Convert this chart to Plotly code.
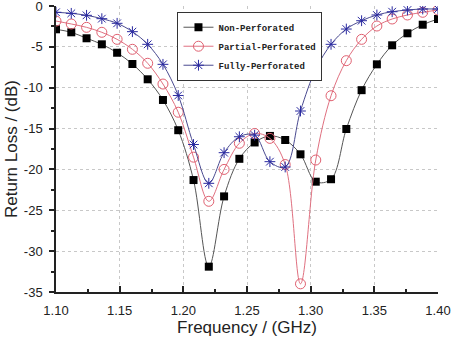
import plotly.graph_objects as go

# Frequency sample points (GHz)
freq = [1.100, 1.112, 1.124, 1.136, 1.148, 1.160, 1.172, 1.184, 1.196, 1.208,
        1.220, 1.232, 1.244, 1.256, 1.268, 1.280, 1.292, 1.304, 1.316, 1.328,
        1.340, 1.352, 1.364, 1.376, 1.388, 1.400]

non_perf = [-2.85, -3.22, -3.95, -4.69, -5.72, -7.10, -8.97, -11.5, -15.2, -21.3,
            -31.9, -23.3, -18.7, -16.7, -15.9, -16.4, -18.15, -21.5, -21.2, -15.05,
            -10.3, -7.14, -4.81, -3.34, -2.29, -1.59]

partial_perf = [-1.84, -2.20, -2.61, -3.22, -4.08, -5.30, -7.01, -9.55, -13.0, -18.5,
                -23.9, -20.0, -16.8, -15.6, -16.2, -19.4, -34.0, -18.85, -10.98, -6.69,
                -4.08, -2.45, -1.59, -1.10, -0.77, -0.49]

fully_perf = [-0.77, -0.90, -1.14, -1.55, -2.12, -3.14, -4.69, -7.14, -10.95, -16.95,
              -21.7, -17.95, -16.0, -15.8, -19.05, -19.7, -12.85, -7.75, -4.69, -2.82,
              -1.80, -1.10, -0.70, -0.49, -0.37, -0.37]

x_tick_vals = [1.10, 1.15, 1.20, 1.25, 1.30, 1.35, 1.40]
x_tick_text = ["1.10", "1.15", "1.20", "1.25", "1.30", "1.35", "1.40"]
y_tick_vals = [0, -5, -10, -15, -20, -25, -30, -35]
y_tick_text = ["0", "-5", "-10", "-15", "-20", "-25", "-30", "-35"]

fig = go.Figure()

fig.add_trace(go.Scatter(
    x=freq, y=non_perf, name="Non-Perforated", mode="lines+markers",
    line=dict(color="#555555", width=1, shape="spline", smoothing=1.0),
    marker=dict(symbol="square", size=8, color="#000000"),
))
fig.add_trace(go.Scatter(
    x=freq, y=partial_perf, name="Partial-Perforated", mode="lines+markers",
    line=dict(color="#e07080", width=1, shape="spline", smoothing=1.0),
    marker=dict(symbol="circle-open", size=10, color="#e06070", line=dict(width=1)),
))
fig.add_trace(go.Scatter(
    x=freq, y=fully_perf, name="Fully-Perforated", mode="lines+markers",
    line=dict(color="#4a4a90", width=1, shape="spline", smoothing=1.0),
    marker=dict(symbol="asterisk-open", size=9, color="#2a2aa0", line=dict(width=1, color="#2a2aa0")),
))

fig.update_layout(
    width=452, height=340,
    margin=dict(l=56, r=14, t=6, b=48),
    paper_bgcolor="white", plot_bgcolor="white",
    font=dict(family="Liberation Sans, Arial", color="#222222"),
    showlegend=True,
    legend=dict(
        x=0.318, y=0.98, xanchor="left", yanchor="top",
        bgcolor="white", bordercolor="#333333", borderwidth=1,
        font=dict(family="Liberation Mono, DejaVu Sans Mono", size=9, color="#222222", weight="bold"),
        itemwidth=30, tracegroupgap=0,
    ),
    xaxis=dict(
        range=[1.10, 1.40], tickvals=x_tick_vals, ticktext=x_tick_text,
        showline=True, linecolor="#222222", linewidth=1.5, mirror=False,
        ticks="inside", ticklen=6, tickcolor="#222222", tickwidth=1.5,
        minor=dict(ticks="inside", ticklen=3, dtick=0.025, tickcolor="#222222", showgrid=False),
        showgrid=True, gridcolor="#c8c8c8", griddash="dot", gridwidth=1,
        zeroline=False, ticklabeloverflow="allow", ticklabelstandoff=6,
        automargin=False,
        tickfont=dict(size=13),
        title=dict(text="Frequency / (GHz)", font=dict(size=17), standoff=4),
    ),
    yaxis=dict(
        range=[-35, 0], tickvals=y_tick_vals, ticktext=y_tick_text,
        showline=True, linecolor="#222222", linewidth=1.5, mirror=False,
        ticks="outside", ticklen=5, tickcolor="#222222", tickwidth=1.5,
        minor=dict(ticks="outside", ticklen=3, dtick=2.5, tickcolor="#222222", showgrid=False),
        showgrid=True, gridcolor="#c8c8c8", griddash="dot", gridwidth=1,
        zeroline=False, ticklabeloverflow="allow", ticklabelstandoff=4,
        automargin=False,
        tickfont=dict(size=13),
        title=dict(text="Return Loss / (dB)", font=dict(size=17), standoff=2),
    ),
)

fig.write_html("out.html")
